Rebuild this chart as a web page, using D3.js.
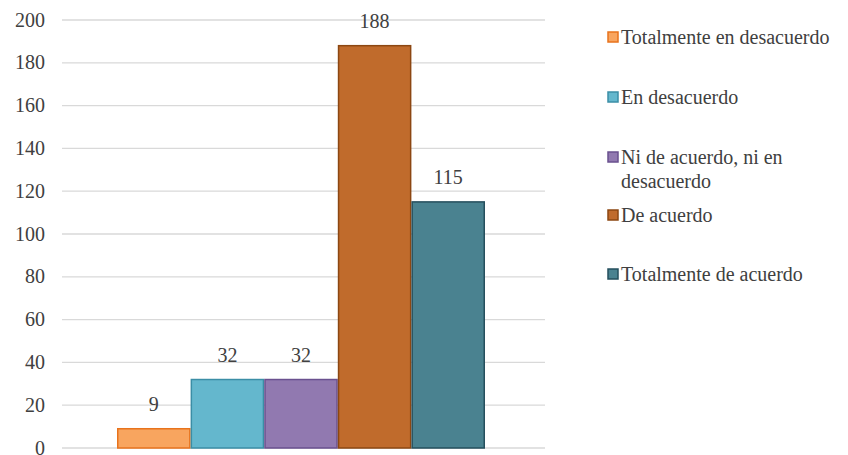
<!DOCTYPE html>
<html><head><meta charset="utf-8">
<script src="https://cdn.jsdelivr.net/npm/d3@7"></script>
</head><body style="margin:0"><svg id="c" width="848" height="455"></svg>
<script>
const categories = ["Totalmente en desacuerdo","En desacuerdo","Ni de acuerdo, ni en desacuerdo","De acuerdo","Totalmente de acuerdo"];
const values = [9,32,32,188,115];
const fills = ["#F8A55F","#64B7CD","#9179B0","#C06B2C","#4A8290"];
const strokes = ["#E8731C","#3B8EA6","#6A508F","#8C4712","#254F5D"];
const yTicks = [0,20,40,60,80,100,120,140,160,180,200];
const legendLines = [["Totalmente en desacuerdo"],["En desacuerdo"],["Ni de acuerdo, ni en","desacuerdo"],["De acuerdo"],["Totalmente de acuerdo"]];

(function(){
const svg = d3.select("#c");
const pL = 62, pR = 545, pT = 20, pB = 448;
const y = d3.scaleLinear().domain([0,200]).range([pB, pT]);
const x = d3.scaleBand().domain(categories).range([117, 485]).padding(0);

function label(px, py, str, anchor) {
  return svg.append("text").attr("x", px).attr("y", py).attr("font-size", 20)
    .style("font-family", "'Liberation Serif'").style("fill", "#404040")
    .attr("text-anchor", anchor).text(str);
}

yTicks.forEach(t => {
  svg.append("line").attr("x1", pL).attr("x2", pR).attr("y1", y(t)).attr("y2", y(t))
    .attr("stroke", "#d9d9d9").attr("stroke-width", 1.3);
  label(45, y(t) + 6.5, String(t), "end");
});

values.forEach((v, i) => {
  svg.append("rect").attr("x", x(categories[i]) + 0.75).attr("width", x.bandwidth() - 1.5)
    .attr("y", y(v)).attr("height", pB - y(v))
    .attr("fill", fills[i]).attr("stroke", strokes[i]).attr("stroke-width", 1.5);
  label(x(categories[i]) + x.bandwidth() / 2, y(v) - 18, String(v), "middle");
});

const legendY = [37, 97, 157, 215, 274];
legendLines.forEach((lines, i) => {
  svg.append("rect").attr("x", 608).attr("y", legendY[i] - 5).attr("width", 10).attr("height", 10)
    .attr("fill", fills[i]).attr("stroke", strokes[i]).attr("stroke-width", 1.5);
  lines.forEach((l, j) => label(621, legendY[i] + 6.5 + j * 24, l, "start"));
});
})();
</script></body></html>
